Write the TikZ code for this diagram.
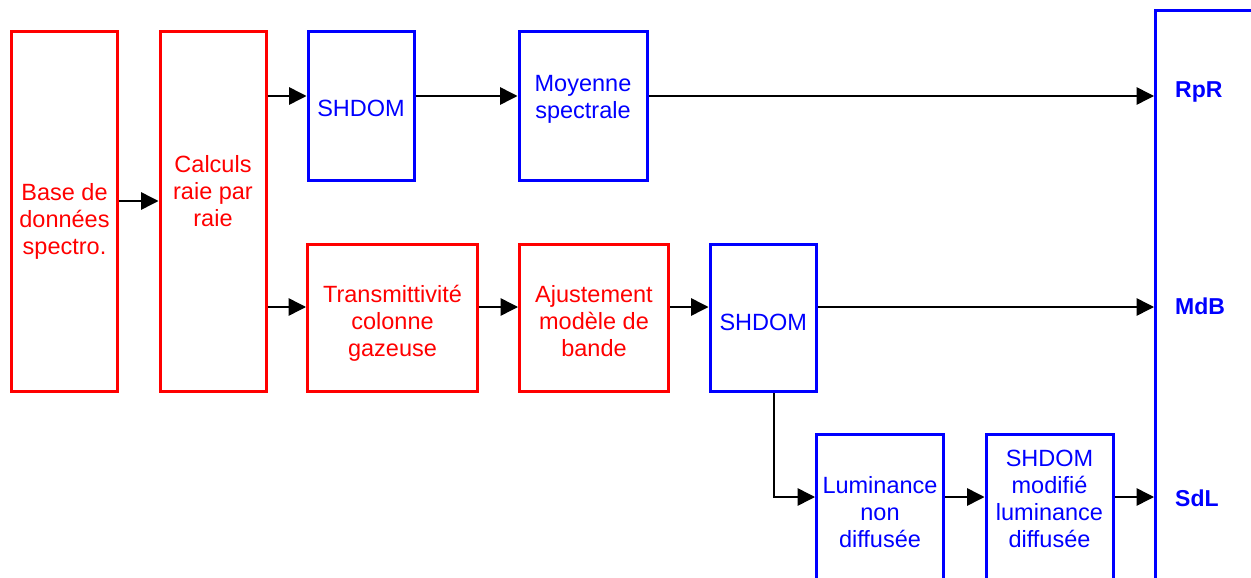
\documentclass[tikz,border=0pt]{standalone}
\usepackage{fontspec}
\setmainfont{Liberation Sans}
\usetikzlibrary{arrows.meta}
\definecolor{pred}{RGB}{255,0,0}
\definecolor{pblue}{RGB}{0,0,255}
\tikzset{
  box/.style={draw, line width=3pt, inner sep=0pt, fill=none},
  rbox/.style={box, draw=pred},
  bbox/.style={box, draw=pblue},
  txt/.style={align=center, font=\fontsize{23.5}{26.8}\selectfont, inner sep=0pt, anchor=base},
  rtxt/.style={txt, text=pred},
  btxt/.style={txt, text=pblue},
  lbl/.style={font=\fontsize{23}{27}\selectfont\bfseries, text=pblue, inner sep=0pt, anchor=base west},
  arr/.style={line width=1.5pt, draw=black, -{Triangle[length=17.5pt,width=17.5pt]}}
}
\begin{document}
\begin{tikzpicture}[x=1pt,y=-1pt]
\useasboundingbox (0,0) rectangle (1251,578);
\clip (0,0) rectangle (1251,578);
\fill[white] (0,0) rectangle (1251,578);
% boxes
\node[rbox, minimum width=106pt, minimum height=359.5pt] (base) at (64.5,211.75) {};
\node[rbox, minimum width=106pt, minimum height=359.5pt] (calc) at (213,211.75) {};
\node[bbox, minimum width=106pt, minimum height=148pt] (shd1) at (361,106) {};
\node[bbox, minimum width=128pt, minimum height=148pt] (moy) at (583,106) {};
\node[rbox, minimum width=170pt, minimum height=147.5pt] (trans) at (392.5,317.75) {};
\node[rbox, minimum width=149pt, minimum height=147.5pt] (ajust) at (594,317.75) {};
\node[bbox, minimum width=106.5pt, minimum height=147.5pt] (shd2) at (763.25,317.75) {};
\node[bbox, minimum width=127pt, minimum height=185.5pt] (lum) at (880,527.25) {};
\node[bbox, minimum width=127pt, minimum height=185.5pt] (shdm) at (1049.5,527.25) {};
\node[bbox, minimum width=170pt, minimum height=620pt] (out) at (1240.5,321) {};
% texts (anchor = baseline of last line)
\node[rtxt] (t-base) at (64.5,254) {Base de\\donn\'ees\\spectro.};
\node[rtxt] (t-calc) at (213,226) {Calculs\\raie par\\raie};
\node[btxt] (t-shd1) at (361,117) {SHDOM};
\node[btxt] (t-moy) at (583,118) {Moyenne\\spectrale};
\node[rtxt] (t-trans) at (392.5,356) {Transmittivit\'e\\colonne\\gazeuse};
\node[rtxt] (t-ajust) at (594,356) {Ajustement\\mod\`ele de\\bande};
\node[btxt] (t-shd2) at (763.25,330) {SHDOM};
\node[btxt] (t-lum) at (880,547) {Luminance\\non\\diffus\'ee};
\node[btxt] (t-shdm) at (1049.5,547) {SHDOM\\modifi\'e\\luminance\\diffus\'ee};
\node[lbl] (rpr) at (1175,97) {RpR};
\node[lbl] (mdb) at (1175,314) {MdB};
\node[lbl] (sdl) at (1175,506) {SdL};
% connectors
\draw[arr] (base.east |- 0,201) -- (calc.west |- 0,201);
\draw[arr] (calc.east |- 0,96) -- (shd1.west |- 0,96);
\draw[arr] (calc.east |- 0,307) -- (trans.west |- 0,307);
\draw[arr] (shd1.east |- 0,96) -- (moy.west |- 0,96);
\draw[arr] (moy.east |- 0,96) -- (out.west |- 0,96);
\draw[arr] (trans.east |- 0,307) -- (ajust.west |- 0,307);
\draw[arr] (ajust.east |- 0,307) -- (shd2.west |- 0,307);
\draw[arr] (shd2.east |- 0,307) -- (out.west |- 0,307);
\draw[arr] (shd2.south -| 774,0) |- (lum.west |- 0,497);
\draw[arr] (lum.east |- 0,497) -- (shdm.west |- 0,497);
\draw[arr] (shdm.east |- 0,497) -- (out.west |- 0,497);
\end{tikzpicture}
\end{document}
